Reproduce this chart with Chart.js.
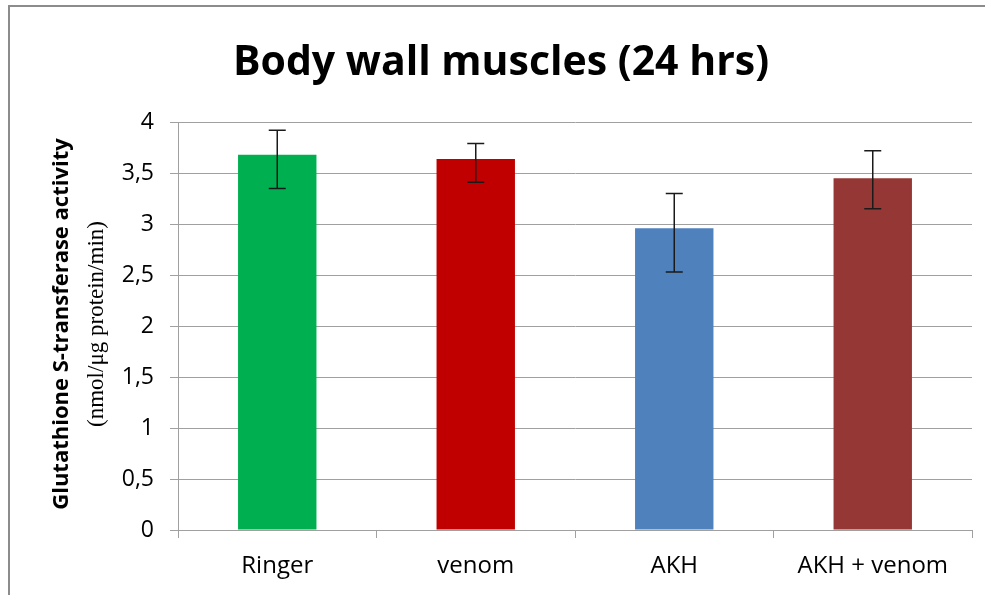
<!DOCTYPE html>
<html>
<head>
<meta charset="utf-8">
<script src="https://cdn.jsdelivr.net/npm/chart.js@4"></script>
<style>
  body { margin: 0; background: #fff; }
  #chart { display: block; }
</style>
</head>
<body>
<canvas id="chart" width="985" height="595"></canvas>
<script>
// data
var groups = ["Ringer", "venom", "AKH", "AKH + venom"];
var activity = [3.68, 3.64, 2.96, 3.45];
var errTop = [3.92, 3.79, 3.30, 3.72];
var errBottom = [3.35, 3.41, 2.53, 3.15];
var barColors = ["#00b050", "#c00000", "#4f81bd", "#953735"];

var gridGray = "#a0a0a0";

// error bars, frame and the two-line y title
var extras = {
    id: "extras",
    afterDatasetsDraw: function(chart){
        var ctx = chart.ctx;
        var y = chart.scales.y;
        var bars = chart.getDatasetMeta(0).data;
        ctx.save();
        ctx.strokeStyle = "#1a1a1a";
        ctx.lineWidth = 1.5;
        for (var i = 0; i < bars.length; i++) {
            var x = bars[i].x;
            var top = y.getPixelForValue(errTop[i]);
            var bot = y.getPixelForValue(errBottom[i]);
            ctx.beginPath();
            ctx.moveTo(x, top); ctx.lineTo(x, bot);
            ctx.moveTo(x - 8.5, top); ctx.lineTo(x + 8.5, top);
            ctx.moveTo(x - 8.5, bot); ctx.lineTo(x + 8.5, bot);
            ctx.stroke();
        }
        ctx.restore();
    },
    afterDraw: function(chart){
        var ctx = chart.ctx;
        ctx.save();
        ctx.strokeStyle = "#8c8c8c";
        ctx.lineWidth = 2;
        ctx.beginPath();
        ctx.moveTo(9, 595); ctx.lineTo(9, 6); ctx.lineTo(985, 6);
        ctx.stroke();

        ctx.fillStyle = "#000";
        ctx.textAlign = "center";
        ctx.textBaseline = "middle";
        ctx.translate(62, 324);
        ctx.rotate(-Math.PI / 2);
        ctx.font = "bold 22px 'Open Sans'";
        ctx.fillText("Glutathione S-transferase activity", 0, 0);
        ctx.font = "23px 'Liberation Serif'";
        ctx.fillText("(nmol/\u03bcg protein/min)", 0, 35);
        ctx.restore();
    }
};

new Chart(document.getElementById("chart"), {
    type: "bar",
    data: {
        labels: groups,
        datasets: [{
            data: activity,
            backgroundColor: barColors,
            categoryPercentage: 1,
            barPercentage: 0.395
        }]
    },
    options: {
        responsive: false,
        animation: false,
        devicePixelRatio: 1,
        layout: { padding: { left: 30, right: 13, top: 0, bottom: 0 } },
        plugins: {
            legend: { display: false },
            tooltip: { enabled: false },
            title: {
                display: true,
                text: "Body wall muscles (24 hrs)",
                color: "#000",
                font: { family: "Open Sans", weight: "bold", size: 41 },
                padding: { top: 39, bottom: 34 }
            }
        },
        scales: {
            y: {
                min: 0,
                max: 4,
                ticks: {
                    stepSize: 0.5,
                    color: "#000",
                    padding: 16,
                    font: { family: "Open Sans", size: 23 },
                    callback: function(v){ return String(v).replace(".", ","); }
                },
                grid: { color: gridGray, tickLength: 8 },
                border: { color: gridGray },
                afterFit: function(s){ s.width = 148; }
            },
            x: {
                ticks: {
                    color: "#000",
                    padding: 14,
                    font: { family: "Open Sans", size: 24 }
                },
                grid: { drawOnChartArea: false, tickLength: 8, color: gridGray, offset: true },
                border: { color: gridGray },
                afterFit: function(s){ s.height = 65; }
            }
        }
    },
    plugins: [extras]
});
</script>
</body>
</html>
